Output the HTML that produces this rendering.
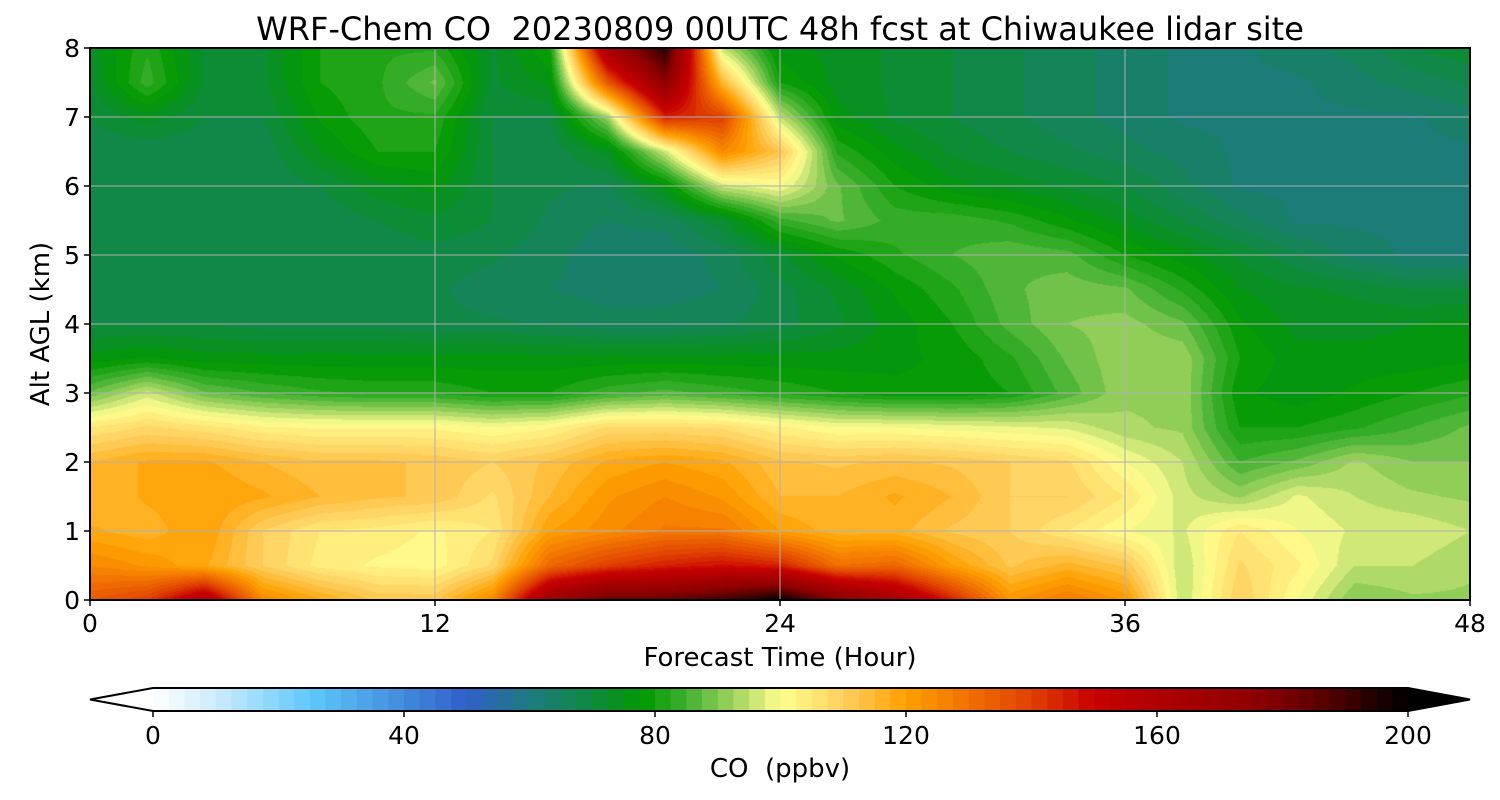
<!DOCTYPE html>
<html><head><meta charset="utf-8">
<style>
body{margin:0;width:1500px;height:800px;background:#fff;overflow:hidden;font-family:"DejaVu Sans","Liberation Sans",sans-serif;}
#wrap{position:relative;width:1500px;height:800px;}
canvas{position:absolute;left:90px;top:48px;}
svg{position:absolute;left:0;top:0;font-family:"DejaVu Sans","Liberation Sans",sans-serif;}
svg text{white-space:pre;}
</style></head><body>
<div id="wrap">
<canvas id="cv" width="1380" height="552"></canvas>
<svg id="sv" width="1500" height="800"></svg>
</div>
<script>
// forecast hours of grid columns
const hours = [0,2,4,6,8,10,12,14,16,18,20,22,24,26,28,30,32,34,36,38,40,42,44,46,48];
// altitudes (km) of grid rows
const alts = [0,0.5,1,1.5,2,2.5,3,3.5,4,4.5,5,5.5,6,6.5,7,7.5,8];
// CO (ppbv) values, one row per altitude
const co0  = [135,140,160,125,118,112,112,125,170,185,185,190,200,180,165,145,122,128,122,95,110,100,90,92,92];
const co05 = [125,122,118,110,104,102,101,108,132,140,145,148,145,130,132,120,112,116,112,95,108,103,95,95,93];
const co10 = [118,116,120,110,105,104,102,105,120,124,128,128,120,116,116,112,110,105,100,97,105,100,97,97,95];
const co15 = [115,118,120,118,115,113,112,107,115,122,125,122,115,115,118,115,110,110,105,96,92,98,95,93,92];
const co20 = [115,118,118,115,113,113,112,110,113,118,120,118,113,112,113,112,110,108,100,95,85,88,93,90,90];
const co25 = [105,108,106,103,102,102,102,100,102,108,108,107,103,100,100,99,98,97,93,92,80,80,82,85,88];
const co30 = [88,96,88,85,83,82,82,80,80,84,86,84,82,80,78,78,80,86,92,92,78,76,78,80,82];
const co35 = [76,78,76,76,76,76,76,76,76,76,76,76,76,76,77,78,82,88,92,92,80,76,76,76,77];
const co40 = [70,70,70,69,69,69,68,68,67,66,66,67,69,72,76,80,86,90,91,88,78,74,74,75,76];
const co45 = [68,68,68,68,68,68,68,66,65,64,64,65,69,73,78,82,87,89,88,82,75,73,72,70,70];
const co50 = [68,68,68,68,68,68,69,68,66,63,63,66,72,78,82,85,87,86,80,76,72,68,64,62,62];
const co55 = [68,68,68,68,68,70,72,70,67,65,66,72,84,88,84,84,82,78,74,70,66,62,62,62,62];
const co60 = [68,68,68,68,70,74,76,70,68,67,76,96,100,88,80,76,74,72,70,66,62,62,62,62,62];
const co65 = [68,68,68,68,75,80,80,70,68,74,96,125,112,82,76,72,70,68,66,64,62,62,62,62,62];
const co70 = [70,74,70,70,78,82,82,70,70,92,145,140,95,76,72,70,68,66,64,62,62,62,62,62,64];
const co75 = [72,84,72,72,80,82,88,72,76,135,175,115,80,74,72,70,68,66,64,62,62,62,64,66,68];
const co80 = [74,82,72,72,80,82,82,72,80,165,195,95,76,74,72,70,68,66,64,62,62,64,66,70,72];
const grid = [co0,co05,co10,co15,co20,co25,co30,co35,co40,co45,co50,co55,co60,co65,co70,co75,co80];
// colorbar
const cbTicks = [0,40,80,120,160,200];
const levelStep = 2.5;

const anchors=[[0,[255,255,255]],[10,[205,236,252]],[25,[95,200,251]],[50,[48,96,200]],[60,[30,122,128]],[70,[15,138,64]],[78,[0,153,0]],[85,[64,176,48]],[95,[192,224,112]],[100,[255,255,144]],[110,[255,208,96]],[120,[255,160,0]],[130,[240,112,0]],[140,[224,64,0]],[150,[200,0,0]],[160,[176,0,0]],[175,[144,0,0]],[185,[96,0,0]],[195,[32,0,0]],[200,[0,0,0]]];
function cmap(v){
  if(v<=0)return anchors[0][1];if(v>=200)return [0,0,0];
  for(let i=1;i<anchors.length;i++){if(v<=anchors[i][0]){const a=anchors[i-1],b=anchors[i];const f=(v-a[0])/(b[0]-a[0]);return a[1].map((c,k)=>Math.round(c+(b[1][k]-c)*f));}}
}
function levelColor(v){const l=Math.min(Math.floor(v/levelStep),79);return cmap((l+0.5)*levelStep);}

const X0=90,X1=1470,Y0=48,Y1=600;
const xs=t=>X0+(t-hours[0])/(hours[hours.length-1]-hours[0])*(X1-X0);
const ys=z=>Y1-(z-alts[0])/(alts[alts.length-1]-alts[0])*(Y1-Y0);

// field
const cv=document.getElementById('cv'),ctx=cv.getContext('2d');
const W=cv.width,H=cv.height,img=ctx.createImageData(W,H);
const tMax=hours[hours.length-1],zMax=alts[alts.length-1];
function idx(arr,v){let i=0;while(i<arr.length-2&&v>arr[i+1])i++;return i;}
for(let py=0;py<H;py++){
  const z=(1-(py+0.5)/H)*zMax;const j=idx(alts,z);const fz=(z-alts[j])/(alts[j+1]-alts[j]);
  for(let px=0;px<W;px++){
    const t=(px+0.5)/W*tMax;const i=idx(hours,t);const ft=(t-hours[i])/(hours[i+1]-hours[i]);
    const v=(grid[j][i]*(1-ft)+grid[j][i+1]*ft)*(1-fz)+(grid[j+1][i]*(1-ft)+grid[j+1][i+1]*ft)*fz;
    const c=levelColor(v);const o=(py*W+px)*4;img.data[o]=c[0];img.data[o+1]=c[1];img.data[o+2]=c[2];img.data[o+3]=255;
  }
}
ctx.putImageData(img,0,0);

const NS='http://www.w3.org/2000/svg',sv=document.getElementById('sv');
function el(tag,attrs,txt){const e=document.createElementNS(NS,tag);for(const k in attrs)e.setAttribute(k,attrs[k]);if(txt!==undefined)e.textContent=txt;sv.appendChild(e);return e;}
// grid lines
[12,24,36].forEach(t=>{const l=el('line',{x1:xs(t),x2:xs(t),y1:Y0,y2:Y1,stroke:'#b0b0b0','stroke-width':1});

});
[1,2,3,4,5,6,7].forEach(z=>{const l=el('line',{x1:X0,x2:X1,y1:ys(z),y2:ys(z),stroke:'#b0b0b0','stroke-width':1});

});
const fr=el('rect',{x:X0,y:Y0,width:X1-X0,height:Y1-Y0,fill:'none',stroke:'#000','stroke-width':2});


// ticks
[0,12,24,36,48].forEach(t=>{el('line',{x1:xs(t),x2:xs(t),y1:Y1,y2:Y1+6,stroke:'#000','stroke-width':1.5});
const tx=el('text',{x:xs(t),y:Y1+32,'font-size':25,'text-anchor':'middle'},String(t));

});
[0,1,2,3,4,5,6,7,8].forEach(z=>{el('line',{x1:X0-6,x2:X0,y1:ys(z),y2:ys(z),stroke:'#000','stroke-width':1.5});
const tx=el('text',{x:X0-10,y:ys(z)+9,'font-size':25,'text-anchor':'end'},String(z));

});
let t;
t=el('text',{x:780,y:40,'font-size':32,'text-anchor':'middle'},'WRF-Chem CO  20230809 00UTC 48h fcst at Chiwaukee lidar site');

t=el('text',{x:780,y:666,'font-size':26,'text-anchor':'middle'},'Forecast Time (Hour)');

t=el('text',{x:49,y:324,'font-size':26,'text-anchor':'middle',transform:'rotate(-90 49 324)'},'Alt AGL (km)');

// colorbar
const CB0=153,CB1=1408,CBY=688,CBH=23;
const cbx=v=>CB0+(v-cbTicks[0])/(cbTicks[cbTicks.length-1]-cbTicks[0])*(CB1-CB0);
for(let l=0;l<80;l++){const c=cmap((l+0.5)*levelStep);
const r=el('rect',{x:cbx(l*levelStep),y:CBY,width:cbx((l+1)*levelStep)-cbx(l*levelStep)+0.6,height:CBH,fill:`rgb(${c})`});
}
t=el('polygon',{points:`${CB0},${CBY} 90,${CBY+CBH/2} ${CB0},${CBY+CBH}`,fill:'#fff',stroke:'none'});

t=el('polygon',{points:`${CB1},${CBY} 1470,${CBY+CBH/2} ${CB1},${CBY+CBH}`,fill:'#000'});

t=el('polygon',{points:`${CB0},${CBY} ${CB1},${CBY} 1470,${CBY+CBH/2} ${CB1},${CBY+CBH} ${CB0},${CBY+CBH} 90,${CBY+CBH/2}`,fill:'none',stroke:'#000','stroke-width':2});

cbTicks.forEach(v=>{el('line',{x1:cbx(v),x2:cbx(v),y1:CBY+CBH,y2:CBY+CBH+6,stroke:'#000','stroke-width':1.5});
const tx=el('text',{x:cbx(v),y:744,'font-size':25,'text-anchor':'middle'},String(v));
});
t=el('text',{x:780,y:777,'font-size':26,'text-anchor':'middle'},'CO  (ppbv)');

</script>
</body></html>
